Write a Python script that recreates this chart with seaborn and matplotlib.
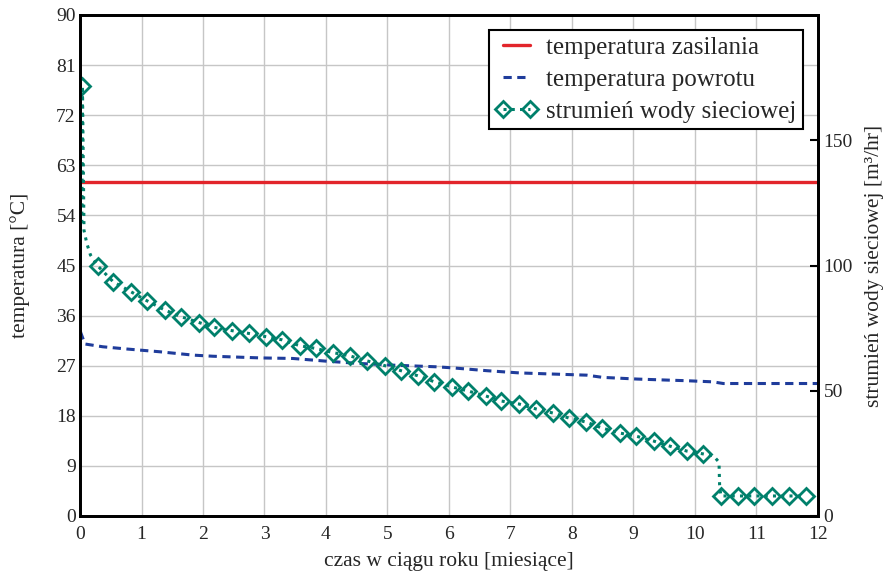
import matplotlib
matplotlib.use("Agg")
import matplotlib.pyplot as plt
import seaborn as sns
import pandas as pd

# --- data -------------------------------------------------------------
# supply temperature [°C] (constant over the year)
supply_months = [0.0, 12.0]
supply_temp = [60.0, 60.0]

# return temperature [°C]
return_months = [0.0, 0.01, 0.08, 0.37, 0.76, 1.30, 1.84, 2.16, 2.93, 3.46,
                 4.02, 4.55, 5.09, 5.80, 6.07, 6.62, 7.15, 7.69, 8.24, 8.50,
                 9.06, 9.59, 9.87, 10.29, 10.46, 12.0]
return_temp = [35.6, 33.0, 30.9, 30.4, 30.0, 29.5, 28.9, 28.7, 28.4, 28.3,
               27.8, 27.4, 27.1, 26.8, 26.6, 26.1, 25.7, 25.5, 25.3, 24.9,
               24.6, 24.4, 24.3, 24.1, 23.8, 23.8]

# network water flow [m³/hr] at the marked points
flow_months = [0.04, 0.29, 0.54, 0.83, 1.09, 1.38, 1.64, 1.94, 2.18, 2.47,
               2.74, 3.02, 3.29, 3.57, 3.83, 4.12, 4.39, 4.67, 4.96, 5.22,
               5.49, 5.76, 6.05, 6.31, 6.60, 6.85, 7.14, 7.42, 7.69, 7.95,
               8.23, 8.49, 8.78, 9.04, 9.33, 9.59, 9.87, 10.13, 10.42, 10.70,
               10.96, 11.25, 11.53, 11.80]
flow_values = [171.7, 99.8, 93.5, 89.5, 85.9, 82.2, 79.6, 77.2, 75.3, 74.0,
               72.9, 71.6, 70.3, 68.0, 66.9, 65.2, 63.9, 61.9, 60.0, 58.0,
               56.0, 53.6, 51.5, 49.9, 47.9, 45.9, 44.7, 42.7, 41.1, 39.1,
               37.5, 35.1, 33.1, 31.9, 29.9, 27.9, 25.9, 24.8, 8.0, 8.0,
               8.0, 8.0, 8.0, 8.0]
# intermediate points of the flow curve between markers
flow_curve_months = [0.03, 0.065, 0.11, 0.17, 10.30, 10.39, 10.40]
flow_curve_values = [117.0, 114.0, 108.9, 104.2, 24.0, 21.5, 12.5]

x_ticks = list(range(0, 13))
temp_ticks = list(range(0, 91, 9))
flow_ticks = [0, 50, 100, 150]

# --- styling ----------------------------------------------------------
sns.set_style("white")
plt.rcParams["font.family"] = ["Liberation Serif", "DejaVu Serif"]

RED = "#e2252b"
BLUE = "#1f3c9b"
GREEN = "#00806b"
GRID = "#c6c6c6"

fig = plt.figure(figsize=(8.83, 5.72), dpi=100)
ax = fig.add_axes([80 / 883, 1 - 516 / 572, 738 / 883, 501 / 572])
ax2 = ax.twinx()

supply_df = pd.DataFrame({"m": supply_months, "t": supply_temp})
return_df = pd.DataFrame({"m": return_months, "t": return_temp})

flow_df = pd.DataFrame({
    "m": flow_months + flow_curve_months,
    "q": flow_values + flow_curve_values,
    "mark": [True] * len(flow_months) + [False] * len(flow_curve_months),
}).sort_values("m", kind="stable").reset_index(drop=True)
mark_idx = list(flow_df.index[flow_df["mark"]])

sns.lineplot(data=supply_df, x="m", y="t", ax=ax, color=RED, lw=2.4,
             estimator=None, sort=False, label="temperatura zasilania")
sns.lineplot(data=return_df, x="m", y="t", ax=ax, color=BLUE, lw=2.2,
             estimator=None, sort=False, label="temperatura powrotu",
             linestyle=(0, (2.7, 1.8)))
sns.lineplot(data=flow_df, x="m", y="q", ax=ax2, color=GREEN, lw=2.2,
             estimator=None, sort=False, label="strumień wody sieciowej",
             linestyle=(0, (1.0, 1.7)), marker="D", markevery=mark_idx,
             markersize=8, markerfacecolor="none", markeredgecolor=GREEN,
             markeredgewidth=2.0)

# --- axes -------------------------------------------------------------
ax.set_xlim(0, 12)
ax.set_ylim(0, 90)
ax2.set_ylim(0, 200)
ax.set_xticks(x_ticks)
ax.set_yticks(temp_ticks)
ax2.set_yticks(flow_ticks)
ax.grid(True, color=GRID, lw=1.0)
ax2.grid(False)
ax.set_axisbelow(True)

ax.tick_params(axis="both", length=0, labelsize=14, pad=3)
ax.tick_params(axis="x", pad=7)
ax2.tick_params(axis="y", direction="in", length=6, width=1.5,
                color="black", labelsize=14, pad=4)

for a in (ax, ax2):
    for s in a.spines.values():
        s.set_visible(True)
        s.set_color("black")
        s.set_linewidth(2.0)

ax.set_xlabel("czas w ciągu roku [miesiące]", fontsize=15.5, labelpad=7)
ax.set_ylabel("temperatura [°C]", fontsize=15.5, labelpad=19)
ax2.set_ylabel("strumień wody sieciowej [m³/hr]", fontsize=15.5,
               labelpad=9)

# --- legend (entries from both axes in one box) -------------------------
h1, l1 = ax.get_legend_handles_labels()
h2, l2 = ax2.get_legend_handles_labels()
for a in (ax, ax2):
    if a.get_legend() is not None:
        a.get_legend().remove()
leg = ax2.legend(h1 + h2, l1 + l2, loc="upper right",
                 bbox_to_anchor=(1 - 15 / 738, 1 - 15 / 501),
                 borderaxespad=0, fontsize=18, numpoints=2,
                 handlelength=1.7, handletextpad=0.35, labelspacing=0.38,
                 borderpad=0.25, fancybox=False, framealpha=1,
                 edgecolor="black")
leg.get_frame().set_linewidth(1.5)

fig.savefig("out.png", dpi=100)
